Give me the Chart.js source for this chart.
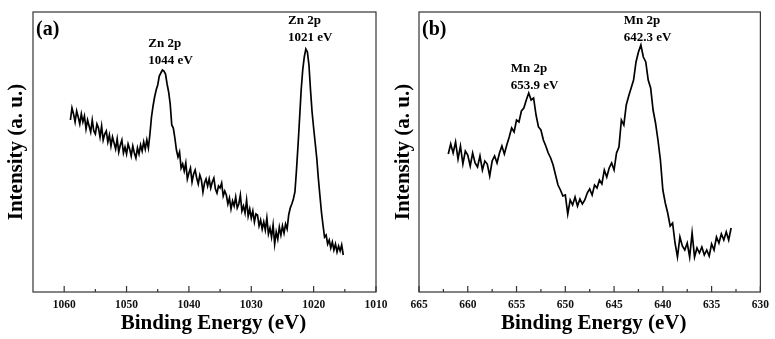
<!DOCTYPE html>
<html lang="en">
<head>
<meta charset="UTF-8" />
<title>XPS Zn 2p / Mn 2p</title>
<script src="https://cdn.jsdelivr.net/npm/chart.js"></script>
<style>
  html, body { margin: 0; padding: 0; background: #fff; }
  #wrap { position: relative; width: 775px; height: 339px; }
  #chartA { position: absolute; left: 0; top: 0; }
  #chartB { position: absolute; left: 387px; top: 0; }
</style>
</head>
<body>
<div id="wrap">
  <canvas id="chartA" width="395" height="339"></canvas>
  <canvas id="chartB" width="388" height="339"></canvas>
</div>

<script>
  // (a) Zn 2p, sampled every 0.25 eV from 1059 eV downwards
  const startA = 1059, stepA = 0.25;
  const intensityA = [
    172,184,178,170, 181,175,168,178, 170,176,163,172, 166,160,172,161,
    158,168,164,155, 166,152,158,161, 150,157,146,155, 149,143,153,140,
    147,152,139,145, 138,148,143,136, 146,139,134,144, 138,147,141,150,
    143,152,144,158, 175,186,195,202, 207,216,219,222, 221,218,208,200,
    188,167,164,154, 142,135,140,124, 128,121,129,113, 119,124,110,118,
    122,114,108,117, 112,100,109,113, 106,113,104,110, 114,103,99,106,
    104,109,96,101,  97,88,94,83,     91,86,95,84,     88,97,81,86,
    79,92,76,83,     74,81,70,78,     77,66,72,63,     70,62,74,58,
    64,55,67,48,     60,53,65,57,     66,59,68,63,     77,84,88,93,
    100,122,147,174, 202,222,235,243, 240,227,202,180, 164,149,134,114,
    97,80,67,55,     57,48,52,44,     50,42,48,40,     46,41,47,37
  ];
  const ticksA = [1060, 1050, 1040, 1030, 1020, 1010];
  const minorA = [1055, 1045, 1035, 1025, 1015];

  // (b) Mn 2p, sampled every 0.25 eV from 662 eV downwards
  const startB = 662, stepB = 0.25;
  const intensityB = [
    138,148,139,150, 133,146,128,141, 137,126,139,129, 125,136,122,131,
    128,116,131,136, 129,139,146,138, 147,155,164,160, 172,170,181,184,
    192,199,192,194, 177,165,162,152, 146,139,134,127, 117,107,102,96,
    97,78,92,87,     95,86,93,88,     92,99,103,97,    107,104,112,108,
    122,115,124,129, 122,139,145,172, 167,187,196,204, 212,230,240,247,
    235,230,212,204, 182,169,152,132, 102,89,79,66,    69,49,35,55,
    46,42,49,35,     59,35,44,39,     45,37,42,36,     48,42,55,49,
    58,52,60,52,     64
  ];
  const ticksB = [665, 660, 655, 650, 645, 640, 635, 630];
  const minorB = [662.5, 657.5, 652.5, 647.5, 642.5, 637.5, 632.5];

  const serif = '"Liberation Serif", "Times New Roman", serif';

  // frame, inward ticks, panel letter, peak notes and x title
  const framePlugin = {
    id: 'frame',
    afterDraw(chart, args, o) {
      const { ctx, chartArea: ca } = chart;
      const xs = chart.scales.x, ys = chart.scales.y;
      ctx.save();
      ctx.strokeStyle = '#333';
      ctx.lineWidth = 1.2;
      ctx.strokeRect(ca.left, ca.top, ca.right - ca.left, ca.bottom - ca.top);
      ctx.beginPath();
      xs.ticks.forEach(t => {
        const px = xs.getPixelForValue(t.value);
        ctx.moveTo(px, ca.bottom); ctx.lineTo(px, ca.bottom - 6);
      });
      o.minor.forEach(v => {
        const px = xs.getPixelForValue(v);
        ctx.moveTo(px, ca.bottom); ctx.lineTo(px, ca.bottom - 3);
      });
      ctx.stroke();

      ctx.fillStyle = '#000';
      ctx.textAlign = 'left';
      ctx.textBaseline = 'middle';
      ctx.font = 'bold 20px ' + serif;
      ctx.fillText(o.panel, ca.left + 3, ca.top + 18);

      ctx.font = 'bold 13px ' + serif;
      o.notes.forEach(n => {
        const x = xs.getPixelForValue(n.x), y = ys.getPixelForValue(n.y);
        n.lines.forEach((s, k) => ctx.fillText(s, x, y + k * 16.5));
      });

      ctx.textAlign = 'center';
      ctx.font = 'bold 21px ' + serif;
      ctx.fillText('Binding Energy (eV)', (ca.left + ca.right) / 2 + o.titleShift, 324);
      ctx.restore();
    }
  };

  function makeChart(id, start, step, values, xMin, xMax, ticks, cfg) {
    const points = values.map((v, i) => ({ x: start - i * step, y: v }));
    return new Chart(document.getElementById(id), {
      type: 'line',
      data: {
        datasets: [{
          data: points,
          borderColor: '#000',
          borderWidth: 1.7,
          pointRadius: 0,
          tension: 0,
          fill: false
        }]
      },
      options: {
        responsive: false,
        animation: false,
        layout: { padding: { top: 12, right: cfg.padRight, left: 0, bottom: 0 } },
        plugins: {
          legend: { display: false },
          tooltip: { enabled: false },
          frame: cfg.frame
        },
        scales: {
          x: {
            type: 'linear',
            reverse: true,
            min: xMin,
            max: xMax,
            grid: { display: false, drawTicks: false },
            border: { display: false },
            ticks: {
              font: { family: serif, size: 11.5, weight: 'bold' },
              color: '#111',
              padding: 6,
              maxRotation: 0,
              autoSkip: false,
              callback: v => String(v)
            },
            afterBuildTicks: s => { s.ticks = ticks.map(v => ({ value: v })); },
            afterFit: s => { s.height = 47; }
          },
          y: {
            min: 0,
            max: 280,
            grid: { display: false, drawTicks: false },
            border: { display: false },
            ticks: { display: false },
            title: {
              display: true,
              text: 'Intensity (a. u.)',
              color: '#000',
              font: { family: serif, size: 21, weight: 'bold' },
              padding: 4
            },
            afterFit: s => { s.width = cfg.yWidth; }
          }
        }
      },
      plugins: [framePlugin]
    });
  }

  makeChart('chartA', startA, stepA, intensityA, 1010, 1065, ticksA, {
    padRight: 19,
    yWidth: 33,
    frame: {
      panel: '(a)',
      minor: minorA,
      titleShift: 9,
      notes: [
        { x: 1046.5, y: 248, lines: ['Zn 2p', '1044 eV'] },
        { x: 1024.1, y: 271, lines: ['Zn 2p', '1021 eV'] }
      ]
    }
  });

  makeChart('chartB', startB, stepB, intensityB, 630, 665, ticksB, {
    padRight: 9,
    yWidth: 32,
    frame: {
      panel: '(b)',
      minor: minorB,
      titleShift: 4,
      notes: [
        { x: 655.6, y: 223, lines: ['Mn 2p', '653.9 eV'] },
        { x: 644.0, y: 271, lines: ['Mn 2p', '642.3 eV'] }
      ]
    }
  });
</script>
</body>
</html>
